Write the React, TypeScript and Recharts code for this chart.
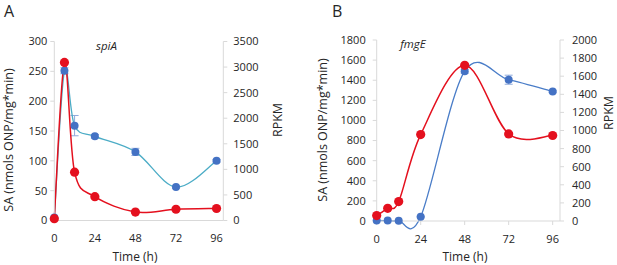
import React from 'react';
import { LineChart, Line, XAxis, YAxis, ErrorBar } from 'recharts';

// sampling times (h)
const times = [0, 6, 12, 24, 48, 72, 96];
const timeTicks = [0, 24, 48, 72, 96];

// panel A - spiA
const spiaSA = [5, 251, 159, 141, 115, 56, 100];
const spiaSAErr = [0, 5, 17, 3, 6, 2, 2];
const spiaRPKM = [35, 3090, 945, 465, 165, 220, 235];
const spiaSATicks = [0, 50, 100, 150, 200, 250, 300];
const spiaRPKMTicks = [0, 500, 1000, 1500, 2000, 2500, 3000, 3500];

// panel B - fmgE
const fmgeSA = [5, 4, 2, 42, 1490, 1405, 1287];
const fmgeSAErr = [0, 0, 0, 5, 20, 45, 10];
const fmgeRPKM = [60, 140, 215, 955, 1720, 962, 945];
const fmgeSATicks = [0, 200, 400, 600, 800, 1000, 1200, 1400, 1600, 1800];
const fmgeRPKMTicks = [0, 200, 400, 600, 800, 1000, 1200, 1400, 1600, 1800, 2000];

const BLUE = '#4472C4';
const RED = '#E4101E';
const GRID = '#D9D9D9';
const TXT = '#262626';

// Excel-style smoothed line (Catmull-Rom through every point)
const smoothCurve = (context: any) => {
  let pts: number[][] = [];
  return {
    areaStart() {},
    areaEnd() {},
    lineStart() {
      pts = [];
    },
    point(x: number, y: number) {
      pts.push([+x, +y]);
    },
    lineEnd() {
      if (!pts.length) return;
      context.moveTo(pts[0][0], pts[0][1]);
      for (let i = 0; i < pts.length - 1; i++) {
        const p0 = pts[i - 1] || pts[i];
        const p1 = pts[i];
        const p2 = pts[i + 1];
        const p3 = pts[i + 2] || p2;
        context.bezierCurveTo(
          p1[0] + (p2[0] - p0[0]) / 6,
          p1[1] + (p2[1] - p0[1]) / 6,
          p2[0] - (p3[0] - p1[0]) / 6,
          p2[1] - (p3[1] - p1[1]) / 6,
          p2[0],
          p2[1]
        );
      }
    },
  };
};

const buildRows = (sa: number[], err: number[], rpkm: number[]) =>
  times.map((t, i) => ({ t, sa: sa[i], err: err[i], rpkm: rpkm[i] }));

const spiaRows = buildRows(spiaSA, spiaSAErr, spiaRPKM);
const fmgeRows = buildRows(fmgeSA, fmgeSAErr, fmgeRPKM);

const tickStyle = { fontSize: 11, fill: TXT };

interface PanelProps {
  rows: any[];
  width: number;
  margin: { top: number; right: number; bottom: number; left: number };
  leftDomain: number[];
  leftTicks: number[];
  rightDomain: number[];
  rightTicks: number[];
  leftGap: number;
  rightGap: number;
  blueLine: string;
  xTickLine: boolean;
}

const Panel: React.FC<PanelProps> = (p) => (
  <LineChart width={p.width} height={265} data={p.rows} margin={p.margin}>
    <XAxis
      dataKey="t"
      type="number"
      domain={[0, 100]}
      ticks={timeTicks}
      interval={0}
      height={44}
      stroke={GRID}
      tickLine={p.xTickLine ? { stroke: GRID } : false}
      tickSize={p.xTickLine ? 4 : 0}
      tickMargin={p.xTickLine ? 10 : 14}
      tick={tickStyle}
    />
    <YAxis
      yAxisId="sa"
      domain={p.leftDomain}
      ticks={p.leftTicks}
      interval={0}
      width={50}
      stroke={GRID}
      tickSize={4}
      tickMargin={p.leftGap}
      tick={tickStyle}
    />
    <YAxis
      yAxisId="rpkm"
      orientation="right"
      domain={p.rightDomain}
      ticks={p.rightTicks}
      interval={0}
      width={50}
      stroke={GRID}
      tickSize={4}
      tickMargin={p.rightGap}
      tick={{ ...tickStyle, textAnchor: 'start' }}
    />
    <Line
      yAxisId="sa"
      dataKey="sa"
      type={smoothCurve as any}
      stroke={p.blueLine}
      strokeWidth={1.3}
      dot={{ r: 4, fill: BLUE, stroke: BLUE, strokeWidth: 0, clipDot: false } as any}
      isAnimationActive={false}
    >
      <ErrorBar dataKey="err" direction="y" width={4} stroke="#8FAADC" strokeWidth={1} />
    </Line>
    <Line
      yAxisId="rpkm"
      dataKey="rpkm"
      type={smoothCurve as any}
      stroke={RED}
      strokeWidth={1.5}
      dot={{ r: 4.6, fill: RED, stroke: RED, strokeWidth: 0, clipDot: false } as any}
      isAnimationActive={false}
    />
  </LineChart>
);

const abs = (x: number, y: number, extra: React.CSSProperties = {}): React.CSSProperties => ({
  position: 'absolute',
  left: x,
  top: y,
  transform: 'translate(-50%, -50%)',
  whiteSpace: 'nowrap',
  color: TXT,
  lineHeight: 1,
  ...extra,
});

const corner = (x: number): React.CSSProperties => ({
  position: 'absolute',
  left: x,
  top: 0,
  fontSize: 16,
  lineHeight: 'normal',
  color: TXT,
});

const rotated = { fontSize: 12.5, transform: 'translate(-50%, -50%) rotate(-90deg)' };

export default function App() {
  return (
    <div
      style={{
        position: 'absolute',
        left: 0,
        top: 0,
        width: 617,
        height: 265,
        background: '#fff',
        fontFamily: '"Open Sans", "Noto Sans", sans-serif',
      }}
    >
      <div style={{ position: 'absolute', left: 0, top: 0 }}>
        <Panel
          rows={spiaRows}
          width={300}
          margin={{ top: 41.5, right: 26.7, bottom: 0.5, left: 4.3 }}
          leftDomain={[0, 300]}
          leftTicks={spiaSATicks}
          rightDomain={[0, 3500]}
          rightTicks={spiaRPKMTicks}
          leftGap={3}
          rightGap={6}
          blueLine="#4BACC6"
          xTickLine={false}
        />
      </div>
      <div style={{ position: 'absolute', left: 300, top: 0 }}>
        <Panel
          rows={fmgeRows}
          width={317}
          margin={{ top: 40, right: 7, bottom: 0, left: 26.7 }}
          leftDomain={[0, 1800]}
          leftTicks={fmgeSATicks}
          rightDomain={[0, 2000]}
          rightTicks={fmgeRPKMTicks}
          leftGap={7}
          rightGap={8}
          blueLine="#4A7DC8"
          xTickLine={true}
        />
      </div>

      <div style={corner(4)}>A</div>
      <div style={corner(332)}>B</div>
      <div style={abs(106.5, 46, { fontSize: 11.5, fontStyle: 'italic' })}>spiA</div>
      <div style={abs(413, 44, { fontSize: 11.5, fontStyle: 'italic' })}>fmgE</div>

      <div style={abs(135, 257, { fontSize: 12 })}>Time (h)</div>
      <div style={abs(465, 257, { fontSize: 12 })}>Time (h)</div>

      <div style={abs(9, 140, rotated)}>SA (nmols ONP/mg*min)</div>
      <div style={abs(323, 130, rotated)}>SA (nmols ONP/mg*min)</div>
      <div style={abs(278, 120, rotated)}>RPKM</div>
      <div style={abs(609, 113, rotated)}>RPKM</div>
    </div>
  );
}
